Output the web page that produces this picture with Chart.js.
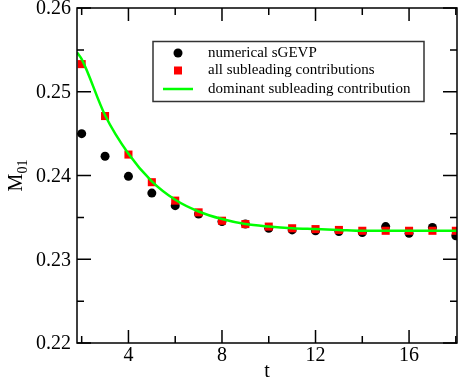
<!DOCTYPE html>
<html><head><meta charset="utf-8">
<script src="https://cdn.jsdelivr.net/npm/chart.js@4"></script>
<style>html,body{margin:0;padding:0;background:#fff}#wrap{width:463px;height:382px}</style>
</head><body><div id="wrap"><canvas id="c"></canvas></div>
<script>
const tValues = [2,3,4,5,6,7,8,9,10,11,12,13,14,15,16,17,18];
const sgevp   = [0.2450,0.2423,0.2399,0.2379,0.2364,0.2354,0.2345,0.2342,0.2337,0.2335,0.2334,0.2333,0.2332,0.2339,0.2331,0.2338,0.2328];
const allSub  = [0.2533,0.2471,0.2425,0.2392,0.2370,0.2356,0.2346,0.2342,0.2339,0.2337,0.2336,0.2335,0.2334,0.2334,0.2334,0.2334,0.2334];
const domT    = [1.8,2,3,4,5,6,7,8,9,10,11,12,13,14,15,16,17,18.05];
const domVals = [0.2547,0.2539,0.2472,0.2426,0.2393,0.2371,0.2357,0.2348,0.2342,0.2339,0.2337,0.2336,0.2335,0.2334,0.2334,0.2334,0.2334,0.2334];
const xMajor = [4,8,12,16];
const xMinor = [2,6,10,14,18];
const yMajor = [0.22,0.23,0.24,0.25,0.26];
const yMinor = [0.225,0.235,0.245,0.255];
const legendLabels = ['numerical sGEVP','all subleading contributions','dominant subleading contribution'];

const SERIF = '"Liberation Serif","Times New Roman",serif';

const framePlugin = {
  id:'frame',
  afterDraw(chart){
    const ctx = chart.ctx, a = chart.chartArea, xs = chart.scales.x, ys = chart.scales.y;
    ctx.save();
    ctx.strokeStyle = '#000'; ctx.lineWidth = 1.5;
    ctx.strokeRect(a.left, a.top, a.right-a.left, a.bottom-a.top);
    ctx.beginPath();
    const tick = (vals, len) => {
      vals.forEach(v=>{
        const px = xs.getPixelForValue(v);
        ctx.moveTo(px, a.bottom); ctx.lineTo(px, a.bottom-len);
        ctx.moveTo(px, a.top); ctx.lineTo(px, a.top+len);
      });
    };
    const ytick = (vals, len) => {
      vals.forEach(v=>{
        const py = ys.getPixelForValue(v);
        ctx.moveTo(a.left, py); ctx.lineTo(a.left+len, py);
        ctx.moveTo(a.right, py); ctx.lineTo(a.right-len, py);
      });
    };
    tick(xMajor, 13); tick(xMinor, 7); ytick(yMajor, 14); ytick(yMinor, 7);
    ctx.stroke();
    // tick labels
    ctx.fillStyle = '#000';
    ctx.font = '20px ' + SERIF;
    ctx.textAlign = 'center'; ctx.textBaseline = 'top';
    xMajor.forEach(v=> ctx.fillText(String(v), xs.getPixelForValue(v), a.bottom+3));
    ctx.textAlign = 'right'; ctx.textBaseline = 'middle';
    yMajor.forEach(v=> ctx.fillText(v.toFixed(2), a.left-6, ys.getPixelForValue(v)+1));
    // axis titles
    ctx.textAlign = 'center'; ctx.textBaseline = 'alphabetic';
    ctx.fillText('t', (a.left+a.right)/2, 377);
    ctx.save();
    ctx.translate(22, (a.top+a.bottom)/2);
    ctx.rotate(-Math.PI/2);
    ctx.textAlign = 'left';
    ctx.font = '20px ' + SERIF;
    const mw = ctx.measureText('M').width;
    ctx.font = '14px ' + SERIF;
    const sw = ctx.measureText('01').width;
    const start = -(mw+sw)/2;
    ctx.font = '20px ' + SERIF;
    ctx.fillText('M', start, 0);
    ctx.font = '14px ' + SERIF;
    ctx.fillText('01', start+mw, 5);
    ctx.restore();
    // legend
    const lx = 153, ly = 41.5, lw = 271, lh = 60;
    ctx.fillStyle = '#fff';
    ctx.fillRect(lx, ly, lw, lh);
    ctx.strokeStyle = '#333'; ctx.lineWidth = 1.5;
    ctx.strokeRect(lx, ly, lw, lh);
    const rows = [53, 70.5, 89];
    ctx.fillStyle = '#000';
    ctx.beginPath(); ctx.arc(178, rows[0], 4.5, 0, Math.PI*2); ctx.fill();
    ctx.fillStyle = '#ff0000';
    ctx.fillRect(174, rows[1]-4, 8, 8);
    ctx.strokeStyle = '#00ff00'; ctx.lineWidth = 2.5;
    ctx.beginPath(); ctx.moveTo(163, rows[2]); ctx.lineTo(193, rows[2]); ctx.stroke();
    ctx.fillStyle = '#000';
    ctx.font = '15px ' + SERIF;
    ctx.textAlign = 'left'; ctx.textBaseline = 'middle';
    legendLabels.forEach((t,i)=> ctx.fillText(t, 208, rows[i]));
    ctx.restore();
  }
};

new Chart(document.getElementById('c'), {
  type:'scatter',
  data:{
    datasets:[
      {label:legendLabels[2], data:domT.map((t,i)=>({x:t,y:domVals[i]})), showLine:true, borderColor:'#00ff00', borderWidth:2.5, pointRadius:0, cubicInterpolationMode:'monotone', order:0},
      {label:legendLabels[1], data:tValues.map((t,i)=>({x:t,y:allSub[i]})), pointStyle:'rect', pointRadius:5.7, backgroundColor:'#ff0000', borderWidth:0, order:1},
      {label:legendLabels[0], data:tValues.map((t,i)=>({x:t,y:sgevp[i]})), pointStyle:'circle', pointRadius:4.5, backgroundColor:'#000', borderWidth:0, order:2}
    ]
  },
  options:{
    responsive:true, maintainAspectRatio:false, animation:false,
    layout:{padding:{top:8,right:6,left:0,bottom:0}},
    plugins:{legend:{display:false}, tooltip:{enabled:false}},
    scales:{
      x:{type:'linear', min:1.8, max:18.05, grid:{display:false}, border:{display:false}, ticks:{display:false}, afterFit(s){s.height=39;}},
      y:{type:'linear', min:0.22, max:0.26, grid:{display:false}, border:{display:false}, ticks:{display:false}, afterFit(s){s.width=77;}}
    }
  },
  plugins:[framePlugin]
});
</script></body></html>
